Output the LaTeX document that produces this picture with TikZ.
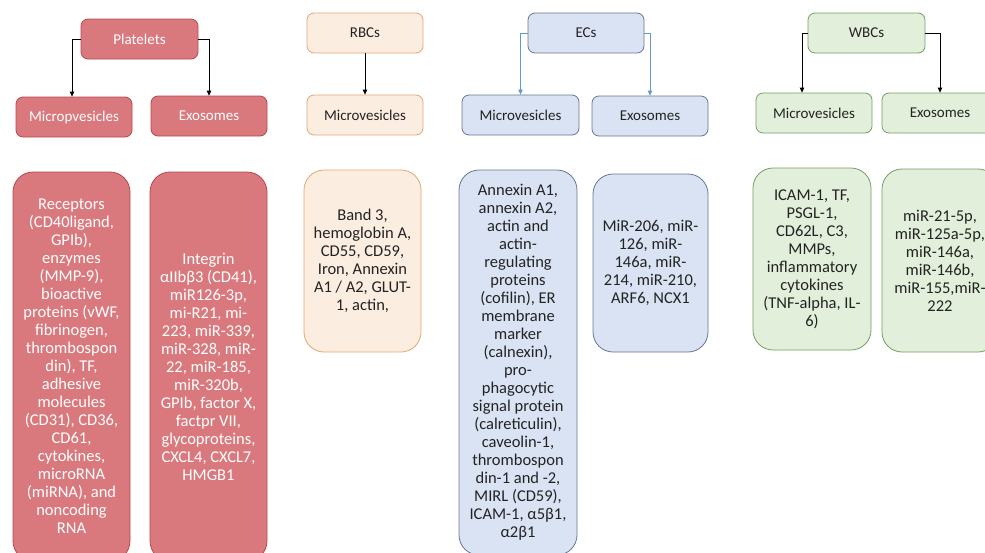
\documentclass[tikz,border=0pt]{standalone}
\usepackage{fontspec}
\setmainfont{Carlito}
\usetikzlibrary{arrows.meta}
\definecolor{pfill}{RGB}{218,121,125}
\definecolor{pdraw}{RGB}{185,72,78}
\definecolor{rfill}{RGB}{252,237,225}
\definecolor{rdraw}{RGB}{222,168,118}
\definecolor{efill}{RGB}{218,227,243}
\definecolor{edraw}{RGB}{104,118,145}
\definecolor{wfill}{RGB}{226,239,218}
\definecolor{wdraw}{RGB}{118,158,98}
\definecolor{earrow}{RGB}{96,154,208}
\definecolor{txt}{RGB}{35,35,35}
\tikzset{
  hbox/.style={rounded corners=7pt, line width=0.8pt, inner sep=0pt,
    minimum width=116pt, minimum height=40pt, font=\fontsize{15}{18}\selectfont},
  cbox/.style={rounded corners=20pt, line width=0.8pt, inner sep=0pt,
    align=center, font=\fontsize{16.5}{18}\selectfont},
  plt/.style={fill=pfill, draw=pdraw, text=white},
  rbc/.style={fill=rfill, draw=rdraw, text=txt},
  ecs/.style={fill=efill, draw=edraw, text=txt},
  wbc/.style={fill=wfill, draw=wdraw, text=txt},
  conn/.style={line width=0.8pt, -{Triangle[length=5pt,width=4.5pt]}},
}
\begin{document}
\begin{tikzpicture}[x=1pt,y=-1pt]
\useasboundingbox (0,0) rectangle (985,552);
\clip (0,0) rectangle (985,552);
% headers
\node[hbox,plt,minimum width=117pt] (P) at (139.5,39) {Platelets};
\node[hbox,plt] (PMV) at (74,117) {Micropvesicles};
\node[hbox,plt] (PEX) at (209,116) {Exosomes};
\node[hbox,rbc] (R) at (365,33) {RBCs};
\node[hbox,rbc] (RMV) at (365,115) {Microvesicles};
\node[hbox,ecs] (E) at (586,33) {ECs};
\node[hbox,ecs,minimum width=117pt] (EMV) at (520.5,115) {Microvesicles};
\node[hbox,ecs] (EEX) at (650,116) {Exosomes};
\node[hbox,wbc,minimum width=117pt] (W) at (866.5,33) {WBCs};
\node[hbox,wbc] (WMV) at (814,113) {Microvesicles};
\node[hbox,wbc] (WEX) at (940,113) {Exosomes};
% connectors
\draw[conn] (P.west) -| ([xshift=-2pt]PMV.north);
\draw[conn] (P.east) -| (PEX.north);
\draw[conn] (R.south) -- (RMV.north);
\draw[conn,earrow] (E.west) -| (EMV.north);
\draw[conn,earrow] (E.east) -| (EEX.north);
\draw[conn] (W.west) -| ([xshift=-12pt]WMV.north);
\draw[conn] (W.east) -| (WEX.north);
% content boxes
\node[cbox,plt,minimum width=117pt,minimum height=389pt] (PMVc) at (71.5,366.5)
 {Receptors\\(CD40ligand,\\GPIb),\\enzymes\\(MMP-9),\\bioactive\\proteins (vWF,\\fibrinogen,\\thrombospon\\din), TF,\\adhesive\\molecules\\(CD31), CD36,\\CD61,\\cytokines,\\microRNA\\(miRNA), and\\noncoding\\RNA};
\node[cbox,plt,minimum width=117pt,minimum height=389pt] (PEXc) at (208.5,366.5)
 {Integrin\\αIIbβ3 (CD41),\\miR126-3p,\\mi-R21, mi-\\223, miR-339,\\miR-328, miR-\\22, miR-185,\\miR-320b,\\GPIb, factor X,\\factpr VII,\\glycoproteins,\\CXCL4, CXCL7,\\HMGB1};
\node[cbox,rbc,minimum width=117pt,minimum height=182pt] (RMVc) at (362.5,261)
 {Band 3,\\hemoglobin A,\\CD55, CD59,\\Iron, Annexin\\A1 / A2, GLUT-\\1, actin,};
\node[cbox,ecs,minimum width=118pt,minimum height=385pt] (EMVc) at (518,362.5)
 {Annexin A1,\\annexin A2,\\actin and\\actin-\\regulating\\proteins\\(cofilin), ER\\membrane\\marker\\(calnexin),\\pro-\\phagocytic\\signal protein\\(calreticulin),\\caveolin-1,\\thrombospon\\din-1 and -2,\\MIRL (CD59),\\ICAM-1, α5β1,\\α2β1};
\node[cbox,ecs,minimum width=115pt,minimum height=178pt] (EEXc) at (650.5,263)
 {MiR-206, miR-\\126, miR-\\146a, miR-\\214, miR-210,\\ARF6, NCX1};
\node[cbox,wbc,minimum width=118pt,minimum height=182pt] (WMVc) at (812,259)
 {ICAM-1, TF,\\PSGL-1,\\CD62L, C3,\\MMPs,\\inflammatory\\cytokines\\(TNF-alpha, IL-\\6)};
\node[cbox,wbc,minimum width=116pt,minimum height=183pt] (WEXc) at (940,260.5)
 {miR-21-5p,\\miR-125a-5p,\\miR-146a,\\miR-146b,\\miR-155,miR-\\222};
\end{tikzpicture}
\end{document}
